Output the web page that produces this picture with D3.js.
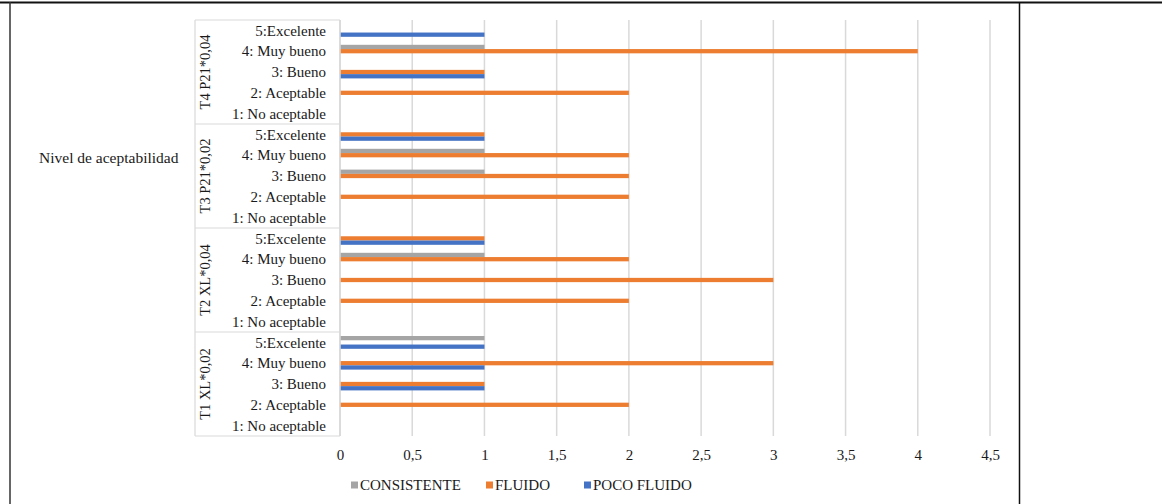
<!DOCTYPE html>
<html>
<head>
<meta charset="utf-8">
<script src="https://cdn.jsdelivr.net/npm/d3@7/dist/d3.min.js"></script>
<style>
html,body{margin:0;padding:0;background:#fff;}
svg{display:block;}
text{font-family:"Liberation Serif","Times New Roman",serif;fill:#1a1a1a;}
</style>
</head>
<body>
<svg id="chart" width="1162" height="504"></svg>
<script>
// ---- data ----
const groups = ["T4 P21*0,04", "T3 P21*0,02", "T2 XL*0,04", "T1 XL*0,02"];
const levels = ["5:Excelente", "4: Muy bueno", "3: Bueno", "2: Aceptable", "1: No aceptable"];
const seriesNames = ["CONSISTENTE", "FLUIDO", "POCO FLUIDO"];
// values per group, per level (order of levels above)
const consistente = [
  [0, 1, 0, 0, 0],
  [0, 1, 1, 0, 0],
  [0, 1, 0, 0, 0],
  [1, 0, 0, 0, 0]
];
const fluido = [
  [0, 4, 1, 2, 0],
  [1, 2, 2, 2, 0],
  [1, 2, 3, 2, 0],
  [0, 3, 1, 2, 0]
];
const pocoFluido = [
  [1, 0, 1, 0, 0],
  [1, 0, 0, 0, 0],
  [1, 0, 0, 0, 0],
  [1, 1, 1, 0, 0]
];
const xTicks = [0, 0.5, 1, 1.5, 2, 2.5, 3, 3.5, 4, 4.5];
const axisTitle = "Nivel de aceptabilidad";
const colors = ["#A5A5A5", "#ED7D31", "#4472C4"];

// ---- build ----
const svg = d3.select("#chart");
const W = 1162, H = 504;

// frame (table borders)
svg.append("line").attr("x1", 0).attr("x2", W).attr("y1", 2.5).attr("y2", 2.5)
  .attr("stroke", "#111").attr("stroke-width", 2);
svg.append("line").attr("x1", 10).attr("x2", 10).attr("y1", 2).attr("y2", H)
  .attr("stroke", "#333").attr("stroke-width", 1.5);
svg.append("line").attr("x1", 1019.5).attr("x2", 1019.5).attr("y1", 2).attr("y2", H)
  .attr("stroke", "#111").attr("stroke-width", 1.5);

const rows = [];
groups.forEach((g, gi) => levels.forEach((l, li) => rows.push({key: gi + "|" + li, g, gi, l, li})));

const x = d3.scaleLinear().domain([0, 4.5]).range([340, 990]);
const y = d3.scaleBand().domain(rows.map(r => r.key)).range([20, 436]);
const sub = d3.scaleBand().domain(seriesNames).range([-6.4, 6.4]);

// gridlines
svg.append("g").selectAll("line").data(xTicks).join("line")
  .attr("x1", d => x(d)).attr("x2", d => x(d))
  .attr("y1", 20).attr("y2", 436)
  .attr("stroke", "#d9d9d9").attr("stroke-width", 1.5);

// bars
const data = [];
rows.forEach(r => {
  const vals = [consistente[r.gi][r.li], fluido[r.gi][r.li], pocoFluido[r.gi][r.li]];
  vals.forEach((v, si) => { if (v > 0) data.push({r, s: seriesNames[si], si, v}); });
});
svg.append("g").selectAll("rect").data(data).join("rect")
  .attr("x", x(0))
  .attr("y", d => y(d.r.key) + y.bandwidth() / 2 + sub(d.s))
  .attr("width", d => x(d.v) - x(0))
  .attr("height", sub.bandwidth())
  .attr("fill", d => colors[d.si]);

// x axis labels
const xa = svg.append("g").attr("transform", "translate(0,436)")
  .call(d3.axisBottom(x).tickValues(xTicks).tickSize(0).tickPadding(13)
    .tickFormat(d => String(d).replace(".", ",")));
xa.select(".domain").remove();
xa.selectAll("text").attr("font-size", 15).attr("font-family", "Liberation Serif").attr("fill", "#1a1a1a");

// category axis box
const cat = svg.append("g");
cat.append("line").attr("x1", 195).attr("x2", 195).attr("y1", 20).attr("y2", 436)
  .attr("stroke", "#d9d9d9").attr("stroke-width", 1.2);
cat.append("line").attr("x1", 340).attr("x2", 340).attr("y1", 20).attr("y2", 436)
  .attr("stroke", "#d9d9d9").attr("stroke-width", 1.5);
const seps = groups.map((g, gi) => y(gi + "|0"));
seps.push(436);
cat.selectAll("line.sep").data(seps).join("line").attr("class", "sep")
  .attr("x1", 195).attr("x2", 340).attr("y1", d => d).attr("y2", d => d)
  .attr("stroke", "#d9d9d9").attr("stroke-width", 1.2);

// level labels
cat.selectAll("text.lvl").data(rows).join("text").attr("class", "lvl")
  .attr("x", 326).attr("y", d => y(d.key) + y.bandwidth() / 2)
  .attr("dy", "0.35em").attr("text-anchor", "end").attr("font-size", 15)
  .text(d => d.l);

// group labels (rotated)
cat.selectAll("text.grp").data(groups).join("text").attr("class", "grp")
  .attr("transform", (d, gi) => {
    const cy = y(gi + "|0") + y.bandwidth() * 2.5;
    return `translate(210,${cy}) rotate(-90)`;
  })
  .attr("text-anchor", "middle").attr("font-size", 14.5)
  .text(d => d);

// axis title
svg.append("text").attr("x", 39).attr("y", 158).attr("dy", "0.35em")
  .attr("font-size", 15.5).text(axisTitle);

// legend
const legendX = [351, 486, 584];
const lg = svg.append("g").selectAll("g").data(seriesNames).join("g")
  .attr("transform", (d, i) => `translate(${legendX[i]},485)`);
lg.append("rect").attr("x", 0).attr("y", -3.5).attr("width", 7).attr("height", 7)
  .attr("fill", (d, i) => colors[i]);
lg.append("text").attr("x", 9).attr("y", 0).attr("dy", "0.35em").attr("font-size", 15)
  .text(d => d);
</script>
</body>
</html>
